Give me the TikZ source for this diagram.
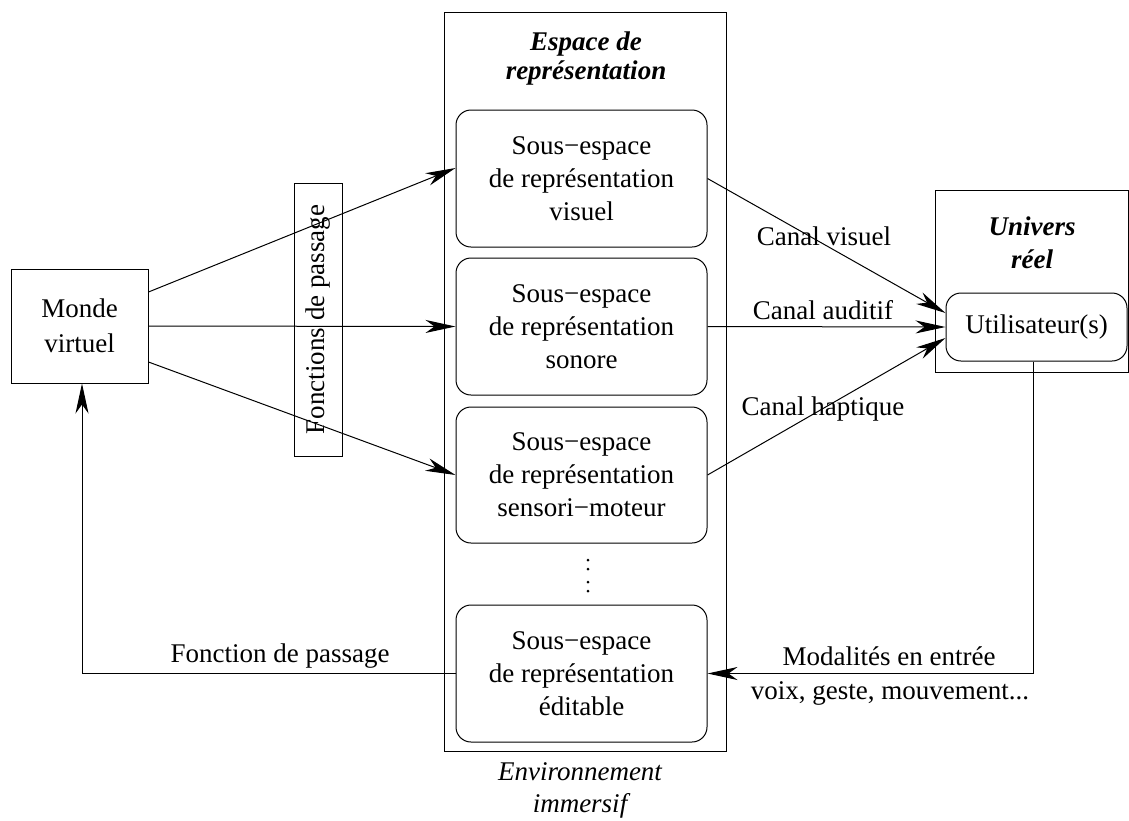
\documentclass[tikz,border=0pt]{standalone}
\usepackage{fontspec}
\setmainfont{Liberation Serif}
\usetikzlibrary{arrows.meta,calc}
\begin{document}
\begin{tikzpicture}[x=1pt,y=-1pt,
  every node/.style={font=\fontsize{27}{33}\selectfont, inner sep=0pt},
  frame/.style={draw, line width=1pt},
  plainbox/.style={draw, line width=1pt, align=center},
  subbox/.style={draw, line width=1pt, rounded corners=15pt,
                 minimum width=251pt, minimum height=137pt, align=center},
  link/.style={line width=1pt, -{Stealth[length=30pt,width=13pt,inset=9pt]}},
  lbl/.style={anchor=base},
  titlefont/.style={font=\fontsize{27}{33}\selectfont\bfseries\itshape},
  dot/.style={circle, fill, minimum size=3pt},
]
\useasboundingbox (0,0) rectangle (1129,820);

% immersive environment container
\node[frame, minimum width=282pt, minimum height=739pt] (env) at (585,381.5) {};
\node[lbl, titlefont] (envt1) at (586,50) {Espace de};
\node[lbl, titlefont] (envt2) at (586,79) {représentation};
\node[lbl, font=\fontsize{27}{33}\selectfont\itshape] (envb1) at (580,780) {Environnement};
\node[lbl, font=\fontsize{27}{33}\selectfont\itshape] (envb2) at (580,812) {immersif};

% representation sub-spaces
\node[subbox] (vis) at (581.5,178.5) {Sous−espace\\de représentation\\visuel};
\node[subbox] (son) at (581.5,326.5) {Sous−espace\\de représentation\\sonore};
\node[subbox, minimum height=136pt] (sens) at (581.5,475) {Sous−espace\\de représentation\\sensori−moteur};
\node[subbox] (edit) at (581.5,673.5) {Sous−espace\\de représentation\\éditable};

\node[dot] (d1) at (588,560) {};
\node[dot] (d2) at (588,569) {};
\node[dot] (d3) at (588,582) {};
\node[dot] (d4) at (588,591) {};

% virtual world and mapping functions
\node[plainbox, minimum width=137pt, minimum height=114pt,
      font=\fontsize{27}{35}\selectfont] (monde) at (79.5,326) {Monde\\virtuel};
\node[plainbox, rotate=90, minimum width=273pt, minimum height=48pt] (passage) at (318,319.5) {Fonctions de passage};

% real world
\node[frame, minimum width=193pt, minimum height=182pt] (univ) at (1031.5,281) {};
\node[lbl, titlefont] (univt1) at (1032,235) {Univers};
\node[lbl, titlefont] (univt2) at (1032,268) {réel};
\node[draw, line width=1pt, rounded corners=15pt, minimum width=181pt, minimum height=68pt] (user) at (1036.5,327) {Utilisateur(s)};

% world to sub-spaces
\draw[link] ($(monde.east)+(0,-34)$) -- ($(vis.west)+(0,-10.5)$);
\draw[link] (monde.east) -- (son.west);
\draw[link] ($(monde.east)+(0,36)$) -- (sens.west);

% sensory channels
\draw[link] (vis.east) -- ($(user.west)+(0,-14)$);
\draw[link] (son.east) -- (user.west);
\draw[link] (sens.east) -- ($(user.west)+(0,11)$);
\node[lbl] (cvis) at (824,245) {Canal visuel};
\node[lbl] (caud) at (823,319) {Canal auditif};
\node[lbl] (chap) at (823,415) {Canal haptique};

% input modalities and feedback
\draw[link] ($(user.south)+(-3.5,0)$) |- (edit.east);
\node[lbl] (mod1) at (889,665) {Modalités en entrée};
\node[lbl] (mod2) at (890,699) {voix, geste, mouvement...};
\draw[link] (edit.west) -| ($(monde.south)+(2.5,0)$);
\node[lbl] (fpass) at (280,662) {Fonction de passage};
\end{tikzpicture}
\end{document}
